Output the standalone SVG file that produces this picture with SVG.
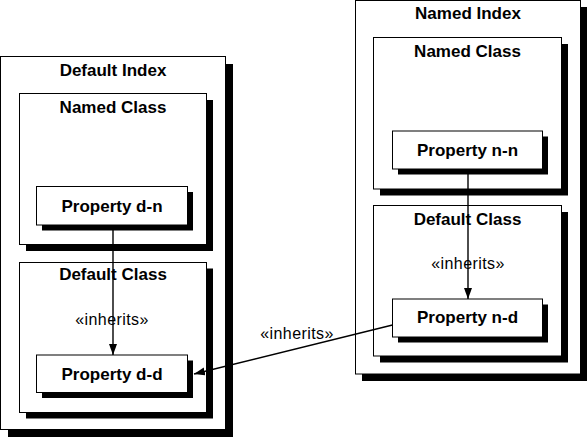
<svg xmlns="http://www.w3.org/2000/svg" width="587" height="438" viewBox="0 0 587 438">
<style>
.box{fill:#fff;stroke:#000;stroke-width:1}
.sh{fill:#000}
.t{font-family:"Liberation Sans",Arial,sans-serif;font-weight:bold;font-size:17px;text-anchor:middle;fill:#000}
.l{font-family:"Liberation Sans",Arial,sans-serif;font-size:16px;letter-spacing:0.4px;text-anchor:middle;fill:#000}
.c{stroke:#000;stroke-width:1.4;fill:none}
</style>
<defs>
<marker id="ah" markerUnits="userSpaceOnUse" markerWidth="12" markerHeight="9" refX="11" refY="4" orient="auto">
<path d="M0,0 L11,4 L0,8 z" fill="#000"/>
</marker>
</defs>
<rect width="587" height="438" fill="#fff"/>
<g id="default-index">
<rect class="sh" x="8" y="64" width="225" height="373"/>
<rect class="box" x="0.5" y="56.5" width="225" height="373"/>
<text class="t" x="113" y="76">Default Index</text>
</g>
<g id="named-class-left">
<rect class="sh" x="26" y="100" width="187" height="151"/>
<rect class="box" x="19.5" y="93.5" width="187" height="151"/>
<text class="t" x="113" y="113">Named Class</text>
</g>
<g id="property-d-n">
<rect class="sh" x="42" y="192" width="151" height="38.5"/>
<rect class="box" x="36.5" y="186.5" width="151" height="38.5"/>
<text class="t" x="112" y="212">Property d-n</text>
</g>
<g id="default-class-left">
<rect class="sh" x="26" y="268.5" width="187" height="150"/>
<rect class="box" x="19.5" y="262.5" width="187" height="150"/>
<text class="t" x="113" y="280">Default Class</text>
<text class="l" x="112" y="325">«inherits»</text>
</g>
<g id="property-d-d">
<rect class="sh" x="42" y="360.5" width="151" height="37.5"/>
<rect class="box" x="36.5" y="355" width="151" height="37.5"/>
<text class="t" x="112" y="380">Property d-d</text>
</g>
<g id="named-index">
<rect class="sh" x="362" y="7" width="225" height="374"/>
<rect class="box" x="355.5" y="0.5" width="225" height="373.5"/>
<text class="t" x="468" y="18.5">Named Index</text>
</g>
<g id="named-class-right">
<rect class="sh" x="380" y="44" width="188" height="151.5"/>
<rect class="box" x="373.5" y="37.5" width="188" height="151.5"/>
<text class="t" x="467.5" y="57">Named Class</text>
</g>
<g id="property-n-n">
<rect class="sh" x="398" y="136.5" width="150" height="38"/>
<rect class="box" x="392.5" y="131" width="150" height="38"/>
<text class="t" x="467.5" y="155.5">Property n-n</text>
</g>
<g id="default-class-right">
<rect class="sh" x="380" y="212" width="188" height="150.5"/>
<rect class="box" x="373.5" y="205.5" width="188" height="150.5"/>
<text class="t" x="467.5" y="224.5">Default Class</text>
<text class="l" x="468" y="268.5">«inherits»</text>
</g>
<g id="property-n-d">
<rect class="sh" x="398" y="304.5" width="150" height="38"/>
<rect class="box" x="392.5" y="299" width="150" height="38"/>
<text class="t" x="467.5" y="323">Property n-d</text>
</g>
<g id="connectors">
<line class="c" x1="113" y1="225" x2="113" y2="355" marker-end="url(#ah)"/>
<line class="c" x1="468" y1="169" x2="468" y2="299" marker-end="url(#ah)"/>
<line class="c" x1="392.5" y1="325" x2="194" y2="374" marker-end="url(#ah)"/>
<text class="l" x="297" y="339">«inherits»</text>
</g>
</svg>
